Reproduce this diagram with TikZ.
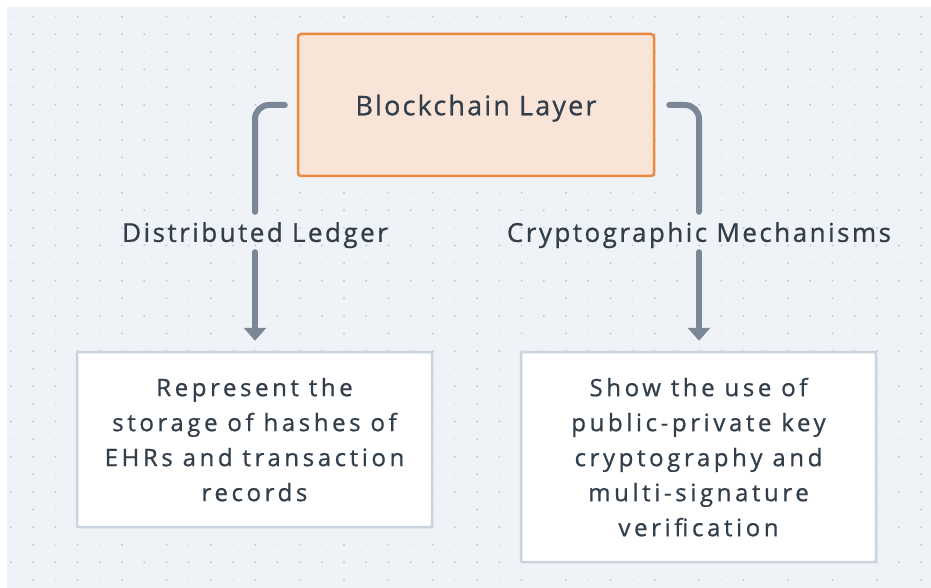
\documentclass[tikz,border=0pt]{standalone}
\usepackage{fontspec}
\setmainfont{Open Sans}
\newfontfamily\fmain[LetterSpace=8,FakeBold=0.8]{Open Sans}
\newfontfamily\flbl[LetterSpace=9.5,FakeBold=0.8]{Open Sans}
\newfontfamily\fleaf[LetterSpace=15,FakeBold=0.8]{Open Sans}
\usetikzlibrary{arrows.meta}
\definecolor{bgc}{HTML}{EFF2F6}
\definecolor{dotc}{HTML}{D3DAE2}
\definecolor{dotb}{HTML}{C3CDD8}
\definecolor{linec}{HTML}{7A8796}
\definecolor{orangeb}{HTML}{EA8A3E}
\definecolor{orangef}{HTML}{F9E5D8}
\definecolor{greyb}{HTML}{C9D4DE}
\definecolor{txt}{HTML}{323F4B}
\tikzset{
  mainbox/.style={draw=orangeb, fill=orangef, line width=2.5pt, rounded corners=3pt,
    text=txt, font=\fmain\fontsize{27}{32}\selectfont, inner sep=0pt, text depth=0pt},
  leafbox/.style={draw=greyb, fill=white, line width=2.5pt, rounded corners=2pt,
    text=txt, font=\fleaf\fontsize{24}{35}\selectfont, align=center, inner sep=0pt, text depth=-5.5pt},
  lbl/.style={text=txt, font=\flbl\fontsize{26}{30}\selectfont, inner sep=0pt, minimum height=40pt, text depth=0pt},
  conn/.style={draw=linec, line width=6pt, line cap=round, rounded corners=14pt},
  arr/.style={draw=linec, line width=6pt, line cap=round, -{Triangle[width=22pt,length=13pt]}, shorten >=10pt}
}
\begin{document}
\begin{tikzpicture}[x=1pt,y=-1pt]
\useasboundingbox (0,0) rectangle (931,588);
\fill[white] (0,0) rectangle (931,588);
\fill[bgc] (7,7) rectangle (931,588);
\foreach \i in {0,...,41}{
  \foreach \j in {0,...,32}{
    \pgfmathtruncatemacro{\odd}{mod(\i+1,2)*mod(\j+1,2)}
    \ifnum\odd=0
      \fill[dotb] (11+22.2*\i,16.7+17.6*\j) circle (1.1pt);
    \else
      \fill[dotc] (11+22.2*\i,16.7+17.6*\j) circle (0.7pt);
    \fi
  }
}
\node[mainbox, minimum width=356pt, minimum height=142pt] (top) at (476,105) {Blockchain Layer};
\node[leafbox, minimum width=355pt, minimum height=175pt] (left) at (254.5,439.5)
  {Represent the\\storage of hashes of\\EHRs and transaction\\records};
\node[leafbox, minimum width=355pt, minimum height=210pt] (right) at (698.5,457)
  {Show the use of\\public-private key\\cryptography and\\multi-signature\\verification};
\node[lbl] (lab1) at (255,232) {Distributed Ledger};
\node[lbl] (lab2) at (699,232) {Cryptographic Mechanisms};
\coordinate (s1) at ([xshift=-12pt]top.west);
\coordinate (s2) at ([xshift=14pt]top.east);
\draw[conn] (s1) -| (lab1.north);
\draw[conn] (s2) -| (lab2.north);
\draw[arr] (lab1.south) -- (lab1.south |- left.north);
\draw[arr] (lab2.south) -- (lab2.south |- right.north);
\end{tikzpicture}
\end{document}
